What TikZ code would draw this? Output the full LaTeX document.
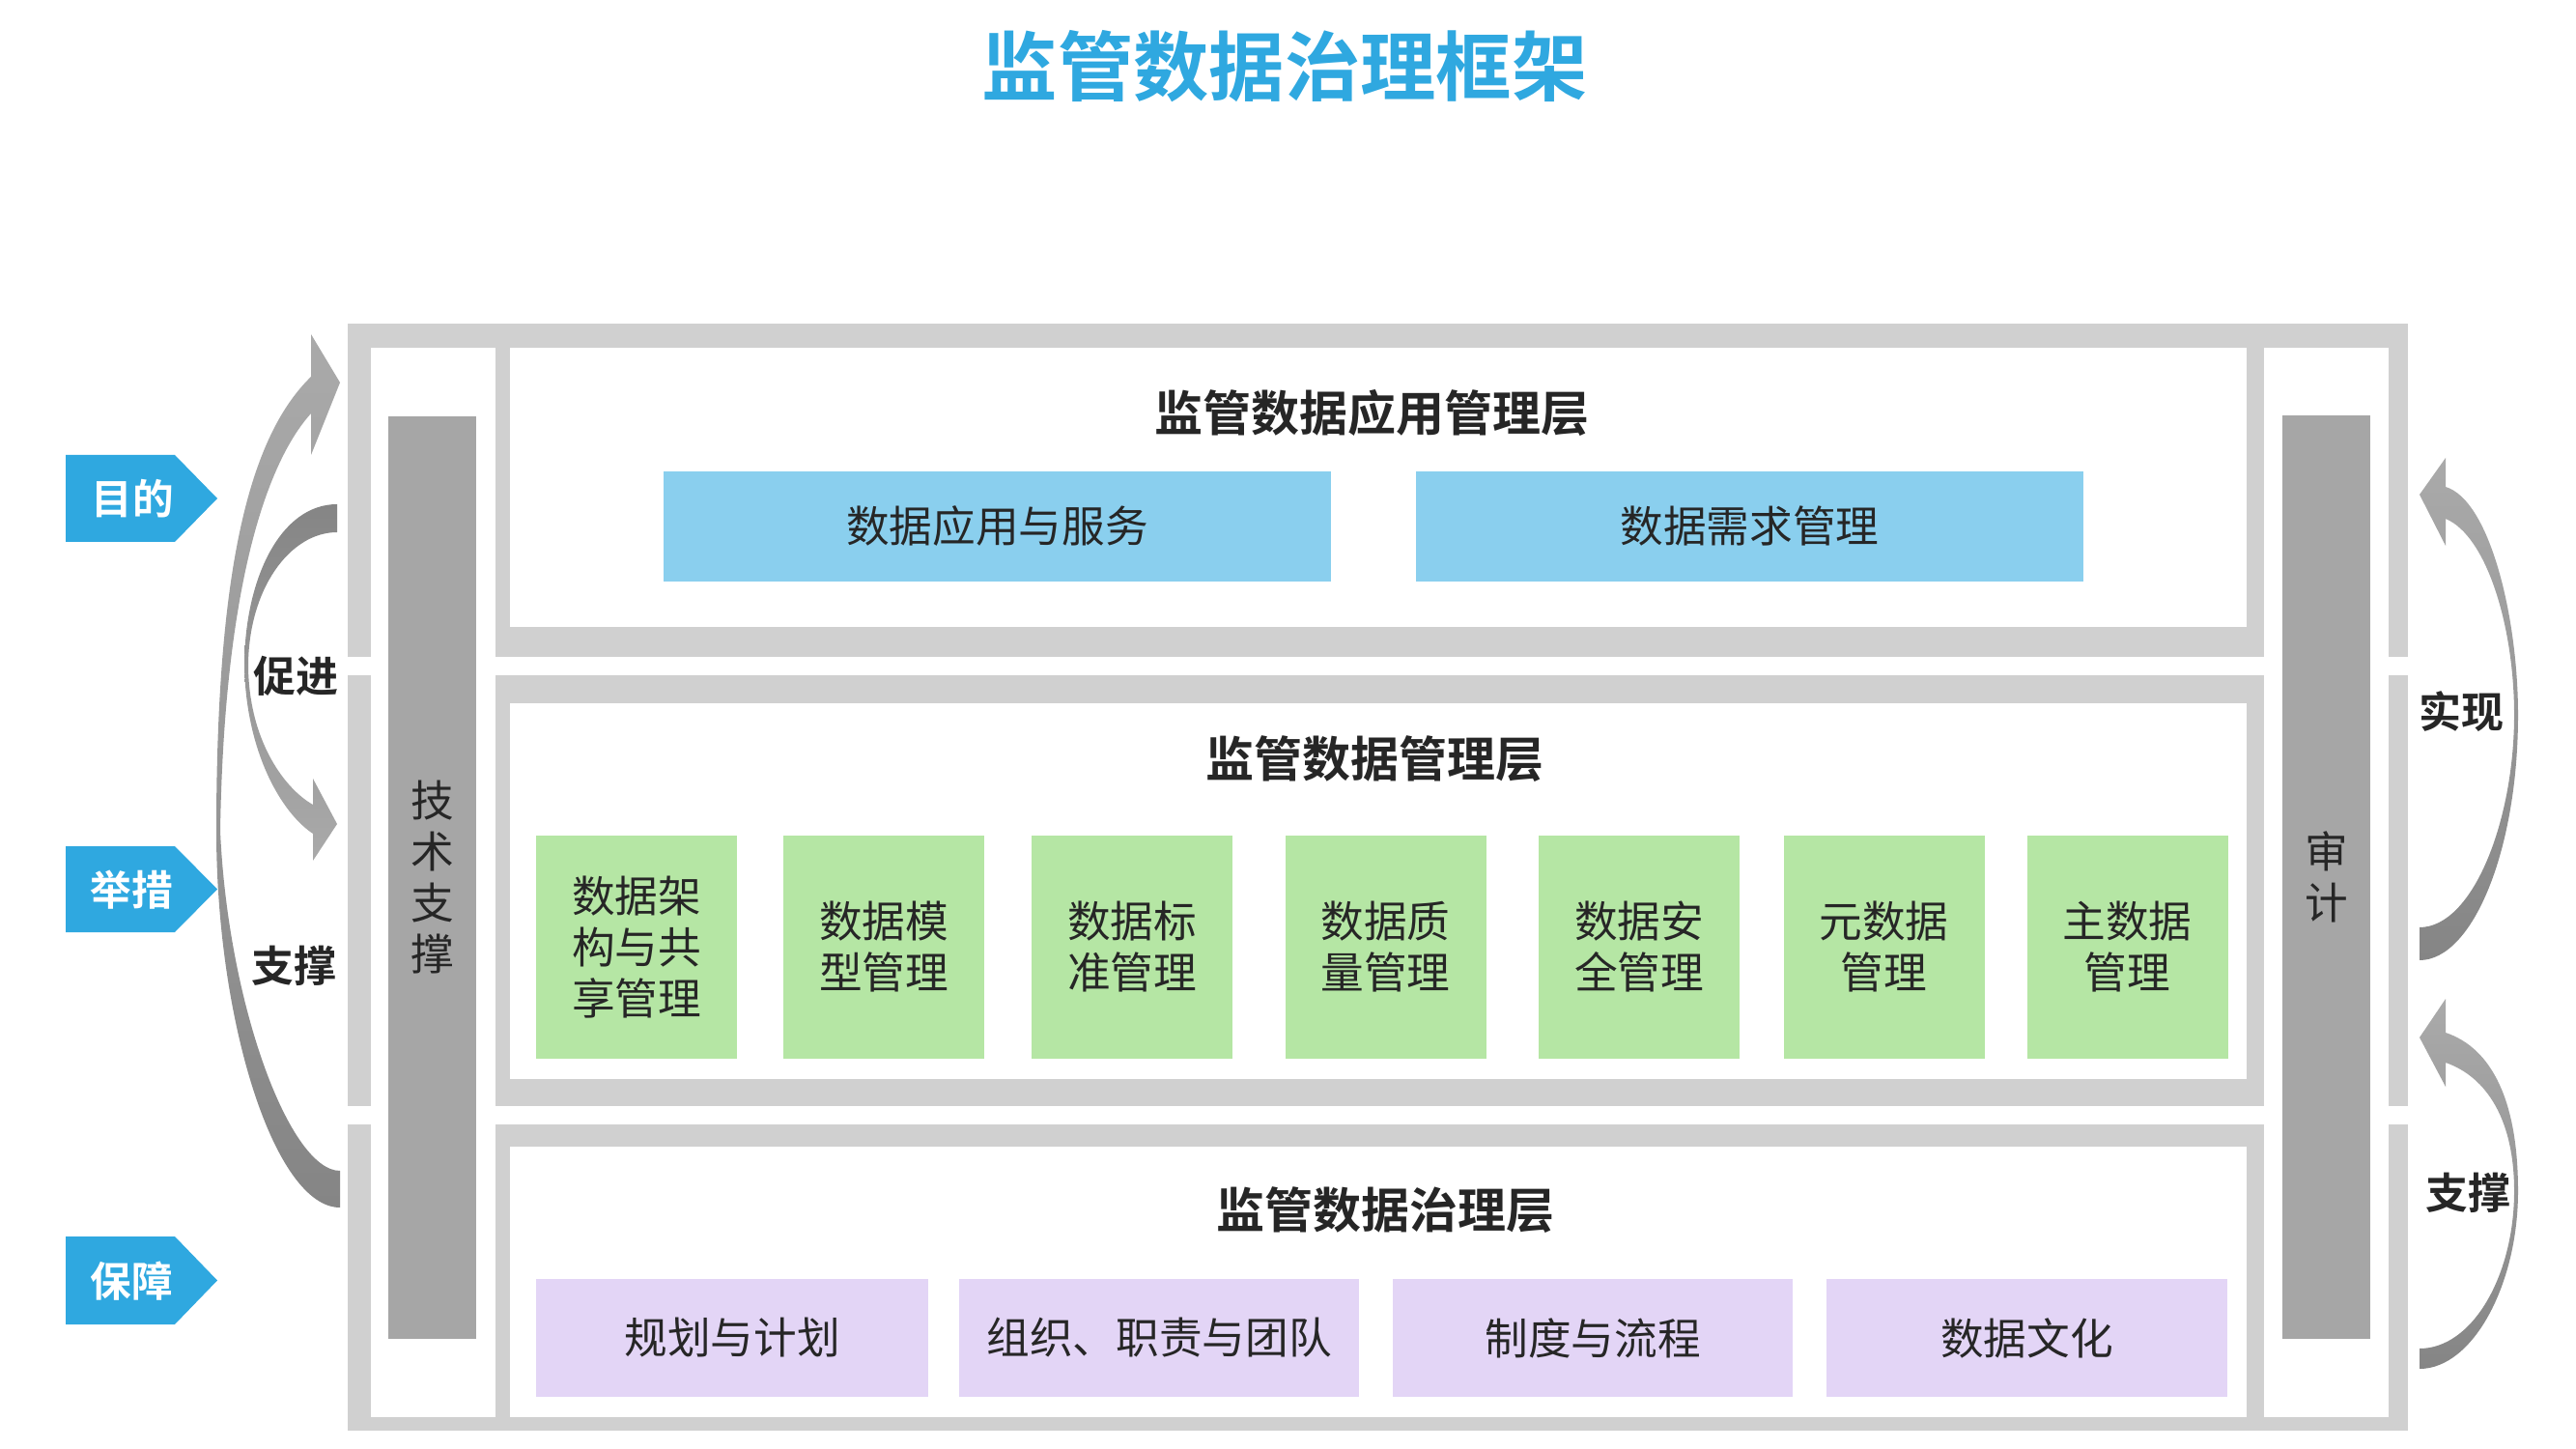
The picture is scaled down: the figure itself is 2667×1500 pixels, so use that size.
\documentclass[tikz,border=0pt]{standalone}
\usepackage{fontspec}
\newfontfamily\cjk{Noto Sans CJK SC}[BoldFont={Noto Sans CJK SC Bold}]
\definecolor{frame}{HTML}{D0D0D0}
\definecolor{bar}{HTML}{A6A6A6}
\definecolor{tagblue}{HTML}{2FA8E0}
\definecolor{appblue}{HTML}{8ACFEE}
\definecolor{mgmtgreen}{HTML}{B5E6A4}
\definecolor{govlav}{HTML}{E3D5F6}
\definecolor{txt}{HTML}{262626}
\definecolor{swlight}{HTML}{AAAAAA}
\definecolor{swdark}{HTML}{858585}
\begin{document}
\begin{tikzpicture}[x=0.3pt,y=-0.3pt,
  sizeR/.style={font=\cjk\fontsize{13.4pt}{15.9pt}\selectfont},
  fbox/.style={draw=none, inner sep=0pt, align=center, text=txt, sizeR},
  greenbox/.style={fbox, fill=mgmtgreen, minimum width=62.4pt, minimum height=69.3pt},
  bluebox/.style={fbox, fill=appblue, minimum width=207.3pt, minimum height=34.2pt},
  lavbox/.style={fbox, fill=govlav, minimum height=36.6pt},
  barbox/.style={fbox, fill=bar, minimum width=27.3pt, minimum height=286.5pt},
  layertitle/.style={font=\cjk\bfseries\fontsize{15pt}{18pt}\selectfont, text=txt, inner sep=0pt},
  sidelabel/.style={font=\cjk\bfseries\fontsize{13.2pt}{16pt}\selectfont, text=txt, inner sep=0pt},
  tagtext/.style={font=\cjk\bfseries\fontsize{12.8pt}{15pt}\selectfont, text=white, inner sep=0pt},
  tagshape/.style={fill=tagblue},
  swooshdown/.style={top color=swlight, bottom color=swdark},
  swooshup/.style={top color=swdark, bottom color=swlight}
]
\useasboundingbox (0,0) rectangle (2667,1500);
\fill[white] (0,0) rectangle (2667,1500);

% title
\node[font=\cjk\bfseries\fontsize{23.5pt}{28pt}\selectfont, text=tagblue, inner sep=0pt] (title) at (1330,69) {监管数据治理框架};

% frame
\fill[frame] (360,335) rectangle (2493,1481);
\fill[white] (360,680) rectangle (2493,699);
\fill[white] (360,1145) rectangle (2493,1164);
\fill[white] (384,360) rectangle (513,1467);
\fill[white] (2344,360) rectangle (2473,1467);
\fill[white] (528,360) rectangle (2326,649);
\fill[white] (528,728) rectangle (2326,1117);
\fill[white] (528,1187) rectangle (2326,1467);

% side bars
\node[barbox] (tech) at (447.5,908.5) {技\\术\\支\\撑};
\node[barbox] (audit) at (2408.5,908) {审\\计};

% application layer
\node[layertitle] (apptitle) at (1420,428) {监管数据应用管理层};
\node[bluebox] (app1) at (1032.5,545) {数据应用与服务};
\node[bluebox] (app2) at (1811.5,545) {数据需求管理};

% management layer
\node[layertitle] (mgmttitle) at (1423,786) {监管数据管理层};
\node[greenbox] (m1) at (659,980.5) {数据架\\构与共\\享管理};
\node[greenbox] (m2) at (915,980.5) {数据模\\型管理};
\node[greenbox] (m3) at (1172,980.5) {数据标\\准管理};
\node[greenbox] (m4) at (1434.5,980.5) {数据质\\量管理};
\node[greenbox] (m5) at (1697,980.5) {数据安\\全管理};
\node[greenbox] (m6) at (1950.5,980.5) {元数据\\管理};
\node[greenbox] (m7) at (2202.5,980.5) {主数据\\管理};

% governance layer
\node[layertitle] (govtitle) at (1434,1253) {监管数据治理层};
\node[lavbox, minimum width=121.8pt] (g1) at (758,1385) {规划与计划};
\node[lavbox, minimum width=124.2pt] (g2) at (1200,1385) {组织、职责与团队};
\node[lavbox, minimum width=124.2pt] (g3) at (1649,1385) {制度与流程};
\node[lavbox, minimum width=124.5pt] (g4) at (2098.5,1385) {数据文化};

% left tags
\fill[tagshape] (68,471) -- (181,471) -- (225,516) -- (181,561) -- (68,561) -- cycle;
\node[tagtext] (goal) at (137,516) {目的};
\fill[tagshape] (68,876) -- (181,876) -- (225,920.5) -- (181,965) -- (68,965) -- cycle;
\node[tagtext] (measure) at (136,921) {举措};
\fill[tagshape] (68,1280) -- (181,1280) -- (225,1325.5) -- (181,1371) -- (68,1371) -- cycle;
\node[tagtext] (guarantee) at (136,1326) {保障};

% left swooshes
\shade[swooshdown] (352,1250) .. controls (285,1250) and (224,1060) .. (224,860)
  .. controls (224,600) and (255,455) .. (322,390) -- (322,346) -- (352,396) -- (322,471) -- (322,428)
  .. controls (275,480) and (232,610) .. (228,860)
  .. controls (236,1040) and (300,1212) .. (352,1212) -- cycle;
\shade[swooshup] (349,522) .. controls (290,522) and (253,600) .. (253,690)
  .. controls (255,780) and (292,842) .. (324,863) -- (324,891) -- (349,853) -- (324,806) -- (324,833)
  .. controls (297,818) and (258,770) .. (257,690)
  .. controls (257,610) and (300,551) .. (349,551) -- cycle;
\node[sidelabel] (promote) at (306,700) {促进};
\node[sidelabel] (supportL) at (304,1000) {支撑};

% right swooshes
\shade[swooshdown] (2505,994) .. controls (2560,994) and (2607,880) .. (2607,740)
  .. controls (2607,640) and (2578,518) .. (2532,504) -- (2532,474) -- (2505,512) -- (2532,565) -- (2532,537)
  .. controls (2575,555) and (2603,650) .. (2603,740)
  .. controls (2603,850) and (2560,960) .. (2505,960) -- cycle;
\shade[swooshdown] (2505,1417) .. controls (2560,1417) and (2607,1330) .. (2607,1233)
  .. controls (2607,1140) and (2580,1085) .. (2532,1069) -- (2532,1034) -- (2505,1074) -- (2532,1125) -- (2532,1100)
  .. controls (2575,1115) and (2603,1160) .. (2603,1233)
  .. controls (2603,1320) and (2560,1396) .. (2505,1396) -- cycle;
\node[sidelabel] (realize) at (2548,737) {实现};
\node[sidelabel] (supportR) at (2555,1235) {支撑};
\end{tikzpicture}
\end{document}
